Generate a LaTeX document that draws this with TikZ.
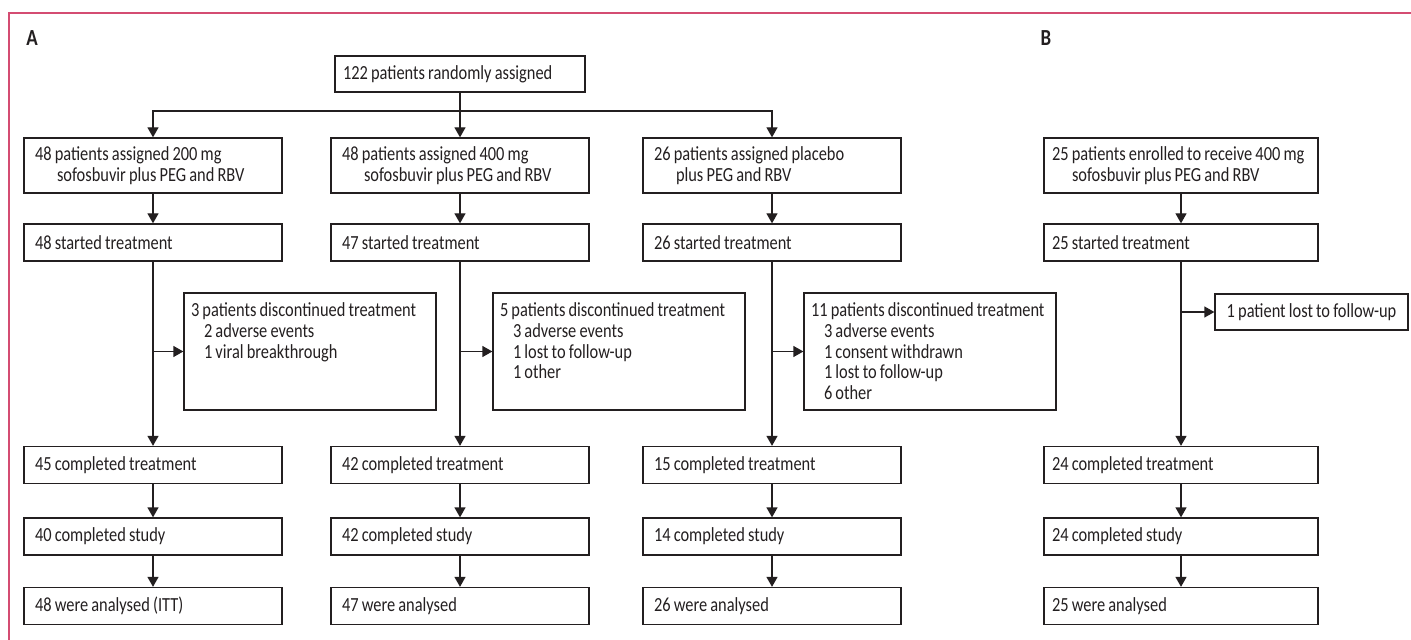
\documentclass[tikz,border=0pt]{standalone}
\usepackage{fontspec}
\setmainfont{Carlito}[FakeStretch=0.82, WordSpace=0.85]
\usepackage{tikz}
\usetikzlibrary{arrows.meta}
\definecolor{framepink}{RGB}{212,76,114}
\definecolor{inkgray}{RGB}{35,31,32}
\newcommand{\boxfont}{\fontsize{10}{10.3}\selectfont\hyphenpenalty=10000\relax}

\begin{document}
\begin{tikzpicture}[x=0.5pt, y=-0.5pt,
    every node/.style={font=\boxfont, text=inkgray},
    box/.style={draw=inkgray, line width=0.65pt, inner xsep=5.5pt, inner ysep=0pt, text width=118pt, align=flush left},
    widebox/.style={box, inner xsep=4pt, text width=129pt},
    onebox/.style={box, minimum height=18.5pt},
    twobox/.style={box, minimum height=27.5pt},
    sidebox/.style={box, inner xsep=3.5pt, text width=119pt, inner ysep=5.8pt, text height=6.2pt, text depth=40.7pt},
    lossbox/.style={draw=inkgray, line width=0.65pt, inner sep=0pt, minimum width=96.5pt, minimum height=18pt},
    arr/.style={draw=inkgray, line width=0.65pt, -{Triangle[length=5pt, width=5.5pt]}},
    panel/.style={font=\fontsize{11.5}{12}\selectfont\bfseries}
  ]
  \useasboundingbox (0,0) rectangle (1411,640);

  % Frame of the figure
  \draw[framepink, line width=0.6pt] (1411,13) -- (9,13) -- (9,640);

  % Panel labels
  \node[panel] (labA) at (32,38) {A};
  \node[panel] (labB) at (1046,38) {B};

  % Randomisation
  \node[box, inner xsep=4pt, text width=117pt, minimum height=18pt] (rand) at (460,74) {122 patients randomly assigned};
  \coordinate (split) at (460,111);

  % Assigned groups
  \node[twobox] (arm1) at (153,165.5) {48 patients assigned 200 mg\\\hspace*{11pt}sofosbuvir plus PEG and RBV};
  \node[twobox] (arm2) at (460,165.5) {48 patients assigned 400 mg\\\hspace*{11pt}sofosbuvir plus PEG and RBV};
  \node[twobox] (arm3) at (772,165.5) {26 patients assigned placebo\\\hspace*{11pt}plus PEG and RBV};
  \node[twobox, widebox] (armB) at (1181,165.5) {25 patients enrolled to receive 400 mg\\\hspace*{10pt}sofosbuvir plus PEG and RBV};

  % Started treatment
  \node[onebox] (st1) at (153,242.5) {48 started treatment};
  \node[onebox] (st2) at (460,242.5) {47 started treatment};
  \node[onebox] (st3) at (772,242.5) {26 started treatment};
  \node[onebox, widebox] (stB) at (1181,242.5) {25 started treatment};

  % Discontinued
  \node[sidebox] (dc1) at (310,351.5) {3 patients discontinued treatment\\\hspace*{6.5pt}2 adverse events\\\hspace*{6.5pt}1 viral breakthrough};
  \node[sidebox] (dc2) at (619,351.5) {5 patients discontinued treatment\\\hspace*{6.5pt}3 adverse events\\\hspace*{6.5pt}1 lost to follow-up\\\hspace*{6.5pt}1 other};
  \node[sidebox] (dc3) at (930,351.5) {11 patients discontinued treatment\\\hspace*{6.5pt}3 adverse events\\\hspace*{6.5pt}1 consent withdrawn\\\hspace*{6.5pt}1 lost to follow-up\\\hspace*{6.5pt}6 other};
  \node[lossbox] (dcB) at (1311.5,312) {1 patient lost to follow-up};

  % Completed treatment
  \node[onebox] (ct1) at (153,465) {45 completed treatment};
  \node[onebox] (ct2) at (460,465) {42 completed treatment};
  \node[onebox] (ct3) at (772,465) {15 completed treatment};
  \node[onebox, widebox] (ctB) at (1181,465) {24 completed treatment};

  % Completed study
  \node[onebox] (cs1) at (153,536.5) {40 completed study};
  \node[onebox] (cs2) at (460,536.5) {42 completed study};
  \node[onebox] (cs3) at (772,536.5) {14 completed study};
  \node[onebox, widebox] (csB) at (1181,536.5) {24 completed study};

  % Analysed
  \node[onebox] (an1) at (153,606) {48 were analysed (ITT)};
  \node[onebox] (an2) at (460,606) {47 were analysed};
  \node[onebox] (an3) at (772,606) {26 were analysed};
  \node[onebox, widebox] (anB) at (1181,606) {25 were analysed};

  % Arrows from randomisation
  \draw[arr] (rand) -- (arm2);
  \draw[arr] (split) -| (arm1);
  \draw[arr] (split) -| (arm3);

  % Arrows, group 200 mg
  \draw[arr] (arm1) -- (st1);
  \draw[arr] (st1) -- (ct1);
  \draw[arr] (dc1 -| st1) -- (dc1);
  \draw[arr] (ct1) -- (cs1);
  \draw[arr] (cs1) -- (an1);

  % Arrows, group 400 mg
  \draw[arr] (arm2) -- (st2);
  \draw[arr] (st2) -- (ct2);
  \draw[arr] (dc2 -| st2) -- (dc2);
  \draw[arr] (ct2) -- (cs2);
  \draw[arr] (cs2) -- (an2);

  % Arrows, placebo group
  \draw[arr] (arm3) -- (st3);
  \draw[arr] (st3) -- (ct3);
  \draw[arr] (dc3 -| st3) -- (dc3);
  \draw[arr] (ct3) -- (cs3);
  \draw[arr] (cs3) -- (an3);

  % Arrows, panel B
  \draw[arr] (armB) -- (stB);
  \draw[arr] (stB) -- (ctB);
  \draw[arr] (dcB -| stB) -- (dcB);
  \draw[arr] (ctB) -- (csB);
  \draw[arr] (csB) -- (anB);
\end{tikzpicture}
\end{document}
